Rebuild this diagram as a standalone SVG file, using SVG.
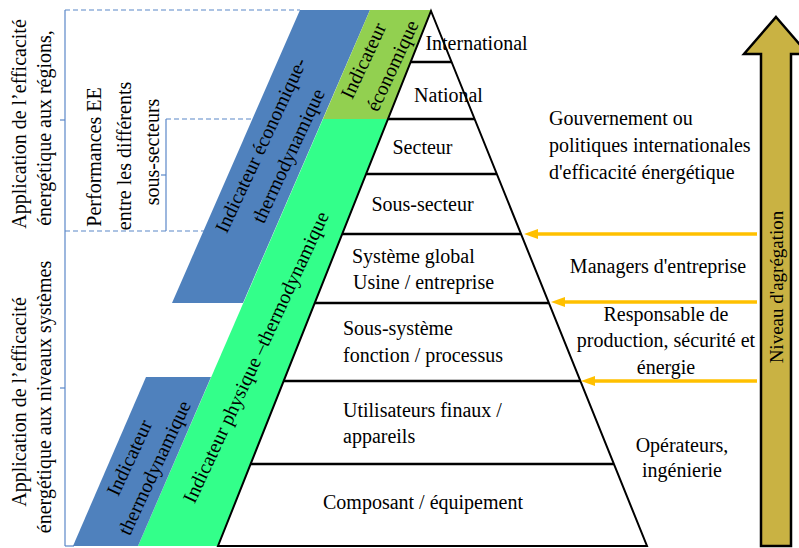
<svg xmlns="http://www.w3.org/2000/svg" width="799" height="548" viewBox="0 0 799 548">
<style>
text{font-family:"Liberation Serif","Times New Roman",serif;font-size:20px;fill:#000}
.m{text-anchor:middle}
.br{stroke:#5B87C8;stroke-width:1.2;fill:none}
.dash{stroke-dasharray:5 3}
.lvl{stroke:#000;stroke-width:2.5}
.oa{stroke:#FFC000;stroke-width:3.5;fill:none}
.oh{fill:#FFC000}
</style>
<rect width="799" height="548" fill="#fff"/>
<g id="brackets">
<line class="br" x1="65" y1="10" x2="65" y2="546"/>
<line class="br" x1="60" y1="120" x2="65" y2="120"/>
<line class="br" x1="60" y1="388" x2="65" y2="388"/>
<line class="br dash" x1="65" y1="10" x2="300" y2="10"/>
<line class="br dash" x1="65" y1="231" x2="204" y2="231"/>
<line class="br" x1="65" y1="546" x2="74" y2="546"/>
<line class="br" x1="166" y1="119" x2="166" y2="231"/>
<line class="br" x1="161" y1="175" x2="166" y2="175"/>
<line class="br dash" x1="166" y1="119" x2="253" y2="119"/>
</g>
<g id="left-labels">
<text class="m" transform="translate(26,124) rotate(-90)">Application de l’efficacité</text>
<text class="m" transform="translate(51,128) rotate(-90)">énergétique aux régions,</text>
<text class="m" transform="translate(26,402) rotate(-90)">Application de l’efficacité</text>
<text class="m" transform="translate(51,397) rotate(-90)">énergétique aux niveaux systèmes</text>
<text class="m" transform="translate(101,157) rotate(-90)">Performances EE</text>
<text class="m" transform="translate(131,156) rotate(-90)">entre les différents</text>
<text class="m" transform="translate(159,152) rotate(-90)">sous-secteurs</text>
</g>
<g id="band-eco-thermo">
<polygon points="300,10 370,10 243,303 172,303" fill="#4F81BD"/>
<text class="m" transform="translate(261.5,145.5) rotate(-65)" y="6">Indicateur économique-</text>
<text class="m" transform="translate(289,156) rotate(-65)" y="6">thermodynamique</text>
</g>
<g id="band-eco">
<polygon points="370,10 432,10 388,119 323,119" fill="#92D050"/>
<text class="m" transform="translate(364,61) rotate(-65)" y="6">Indicateur</text>
<text class="m" transform="translate(393,66) rotate(-65)" y="6">économique</text>
</g>
<g id="band-phys">
<polygon points="323,119 388,119 218,546 138,546" fill="#33FF8A"/>
<text class="m" transform="translate(256.5,357.5) rotate(-65)" y="6">Indicateur physique –thermodynamique</text>
</g>
<g id="band-thermo">
<polygon points="146,377 211,377 138,546 73,546" fill="#4F81BD"/>
<text class="m" transform="translate(130,458) rotate(-65)" y="6">Indicateur</text>
<text class="m" transform="translate(155,468) rotate(-65)" y="6">thermodynamique</text>
</g>
<g id="pyramid">
<polygon points="431,11 647,546 218,546" fill="#fff" stroke="#000" stroke-width="2"/>
<line class="lvl" x1="410.7" y1="62" x2="451.6" y2="62"/>
<line class="lvl" x1="388" y1="119" x2="474.6" y2="119"/>
<line class="lvl" x1="366.1" y1="174" x2="496.9" y2="174"/>
<line class="lvl" x1="342.2" y1="234" x2="521.1" y2="234"/>
<line class="lvl" x1="314.8" y1="303" x2="549" y2="303"/>
<line class="lvl" x1="283.7" y1="381" x2="580.5" y2="381"/>
<line class="lvl" x1="250.7" y1="464" x2="613.9" y2="464"/>
</g>
<g id="lvl-international"><text class="m" x="476.5" y="50">International</text></g>
<g id="lvl-national"><text class="m" x="448.5" y="102">National</text></g>
<g id="lvl-secteur"><text class="m" x="422.5" y="154">Secteur</text></g>
<g id="lvl-sous-secteur"><text class="m" x="422.5" y="211">Sous-secteur</text></g>
<g id="lvl-systeme"><text x="352" y="263">Système global</text><text x="353" y="289">Usine / entreprise</text></g>
<g id="lvl-sous-systeme"><text x="343" y="335">Sous-système</text><text x="343" y="362">fonction / processus</text></g>
<g id="lvl-utilisateurs"><text x="343" y="417">Utilisateurs finaux /</text><text x="343" y="443">appareils</text></g>
<g id="lvl-composant"><text class="m" x="423" y="509">Composant / équipement</text></g>
<g id="right-labels">
<text x="549" y="125">Gouvernement ou</text>
<text x="549" y="152">politiques internationales</text>
<text x="549" y="179">d'efficacité énergétique</text>
<text class="m" x="658" y="273">Managers d'entreprise</text>
<text class="m" x="666" y="321">Responsable de</text>
<text class="m" x="666" y="347">production, sécurité et</text>
<text class="m" x="666" y="374">énergie</text>
<text class="m" x="682" y="452">Opérateurs,</text>
<text class="m" x="682" y="477">ingénierie</text>
</g>
<g id="connectors">
<line class="oa" x1="757" y1="234" x2="535" y2="234"/>
<polygon class="oh" points="524,234 538,229 538,239"/>
<line class="oa" x1="757" y1="302" x2="562" y2="302"/>
<polygon class="oh" points="551,302 565,297 565,307"/>
<line class="oa" x1="757" y1="381" x2="592" y2="381"/>
<polygon class="oh" points="581,381 595,376 595,386"/>
</g>
<g id="aggregation-arrow">
<polygon points="776,17 808,54 791,54 791,546 761,546 761,54 744,54" fill="#C9B243" stroke="#000" stroke-width="2.5" stroke-linejoin="miter"/>
<text class="m" style="font-size:19px" transform="translate(783,287) rotate(-90)">Niveau d'agrégation</text>
</g>
</svg>
